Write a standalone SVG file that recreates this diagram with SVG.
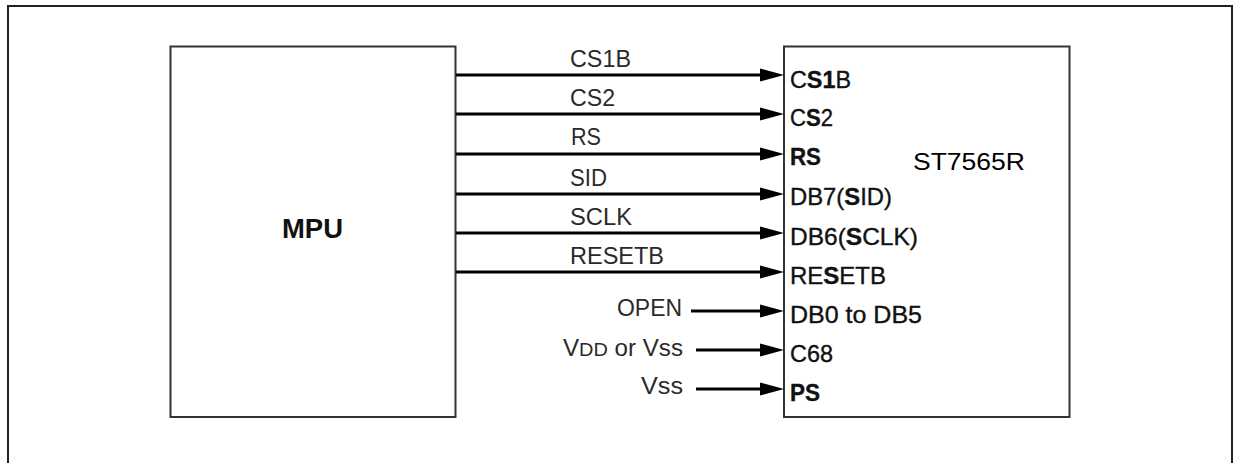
<svg xmlns="http://www.w3.org/2000/svg" width="1238" height="463" viewBox="0 0 1238 463">
<style>
.box{fill:#fff;stroke:#333;stroke-width:2}
.frame{fill:none;stroke:#222;stroke-width:2}
.wire{stroke:#000;stroke-width:3;fill:none}
.sig{font-family:"Liberation Sans",Arial,sans-serif;font-size:23px;fill:#2a2a2a}
.pin{font-family:"Liberation Sans",Arial,sans-serif;font-size:24px;fill:#111;stroke:#111;stroke-width:0.35}
.b{font-weight:bold}
.title{font-family:"Liberation Sans",Arial,sans-serif;font-size:23px;fill:#000}
.mpu{font-family:"Liberation Sans",Arial,sans-serif;font-size:27px;font-weight:bold;fill:#111}
</style>
<defs>
<marker id="ah" markerUnits="userSpaceOnUse" markerWidth="25" markerHeight="15" refX="10" refY="7.5" orient="auto">
<path d="M0,1 L24,7.5 L0,14 Z" fill="#000"/>
</marker>
</defs>
<rect width="1238" height="463" fill="#fff"/>
<g id="frame">
<path class="frame" d="M8,463 V6 H1232 V463"/>
</g>
<g id="mpu">
<rect class="box" x="170.5" y="46.5" width="285" height="370.5"/>
<text class="mpu" x="282" y="238" textLength="61" lengthAdjust="spacingAndGlyphs">MPU</text>
</g>
<g id="st7565r">
<rect class="box" x="784" y="46.5" width="285.5" height="370.5"/>
<text class="title" x="913" y="170" textLength="112" lengthAdjust="spacingAndGlyphs">ST7565R</text>
<text class="pin" x="790" y="88" textLength="61" lengthAdjust="spacingAndGlyphs">C<tspan class="b">S1</tspan>B</text>
<text class="pin" x="790" y="126" textLength="43" lengthAdjust="spacingAndGlyphs">C<tspan class="b">S</tspan>2</text>
<text class="pin b" x="790" y="165" textLength="31" lengthAdjust="spacingAndGlyphs">RS</text>
<text class="pin" x="790" y="205" textLength="102" lengthAdjust="spacingAndGlyphs">DB7(<tspan class="b">S</tspan>ID)</text>
<text class="pin" x="790" y="245" textLength="128" lengthAdjust="spacingAndGlyphs">DB6(<tspan class="b">S</tspan>CLK)</text>
<text class="pin" x="790" y="284" textLength="96" lengthAdjust="spacingAndGlyphs">RE<tspan class="b">S</tspan>ETB</text>
<text class="pin" x="790" y="323" textLength="132" lengthAdjust="spacingAndGlyphs">DB0 to DB5</text>
<text class="pin" x="790" y="362" textLength="43" lengthAdjust="spacingAndGlyphs">C68</text>
<text class="pin b" x="790" y="401" textLength="30" lengthAdjust="spacingAndGlyphs">PS</text>
</g>
<g id="connectors">
<line class="wire" x1="456" y1="75" x2="770" y2="75" marker-end="url(#ah)"/>
<line class="wire" x1="456" y1="114" x2="770" y2="114" marker-end="url(#ah)"/>
<line class="wire" x1="456" y1="154" x2="770" y2="154" marker-end="url(#ah)"/>
<line class="wire" x1="456" y1="194" x2="770" y2="194" marker-end="url(#ah)"/>
<line class="wire" x1="456" y1="233" x2="770" y2="233" marker-end="url(#ah)"/>
<line class="wire" x1="456" y1="272" x2="770" y2="272" marker-end="url(#ah)"/>
<line class="wire" x1="691" y1="311" x2="770" y2="311" marker-end="url(#ah)"/>
<line class="wire" x1="696" y1="350" x2="770" y2="350" marker-end="url(#ah)"/>
<line class="wire" x1="696" y1="389" x2="770" y2="389" marker-end="url(#ah)"/>
<text class="sig" x="570" y="67" textLength="61" lengthAdjust="spacingAndGlyphs">CS1B</text>
<text class="sig" x="570" y="106" textLength="45" lengthAdjust="spacingAndGlyphs">CS2</text>
<text class="sig" x="571" y="145" textLength="30" lengthAdjust="spacingAndGlyphs">RS</text>
<text class="sig" x="570" y="186" textLength="37" lengthAdjust="spacingAndGlyphs">SID</text>
<text class="sig" x="570" y="225" textLength="62" lengthAdjust="spacingAndGlyphs">SCLK</text>
<text class="sig" x="570" y="264" textLength="94" lengthAdjust="spacingAndGlyphs">RESETB</text>
<text class="sig" x="617" y="316" textLength="65" lengthAdjust="spacingAndGlyphs">OPEN</text>
<text class="sig" x="563" y="356" textLength="120" lengthAdjust="spacingAndGlyphs">V<tspan font-size="19">DD</tspan> or V<tspan>ss</tspan></text>
<text class="sig" x="641" y="394" textLength="42" lengthAdjust="spacingAndGlyphs">Vss</text>
</g>
</svg>
